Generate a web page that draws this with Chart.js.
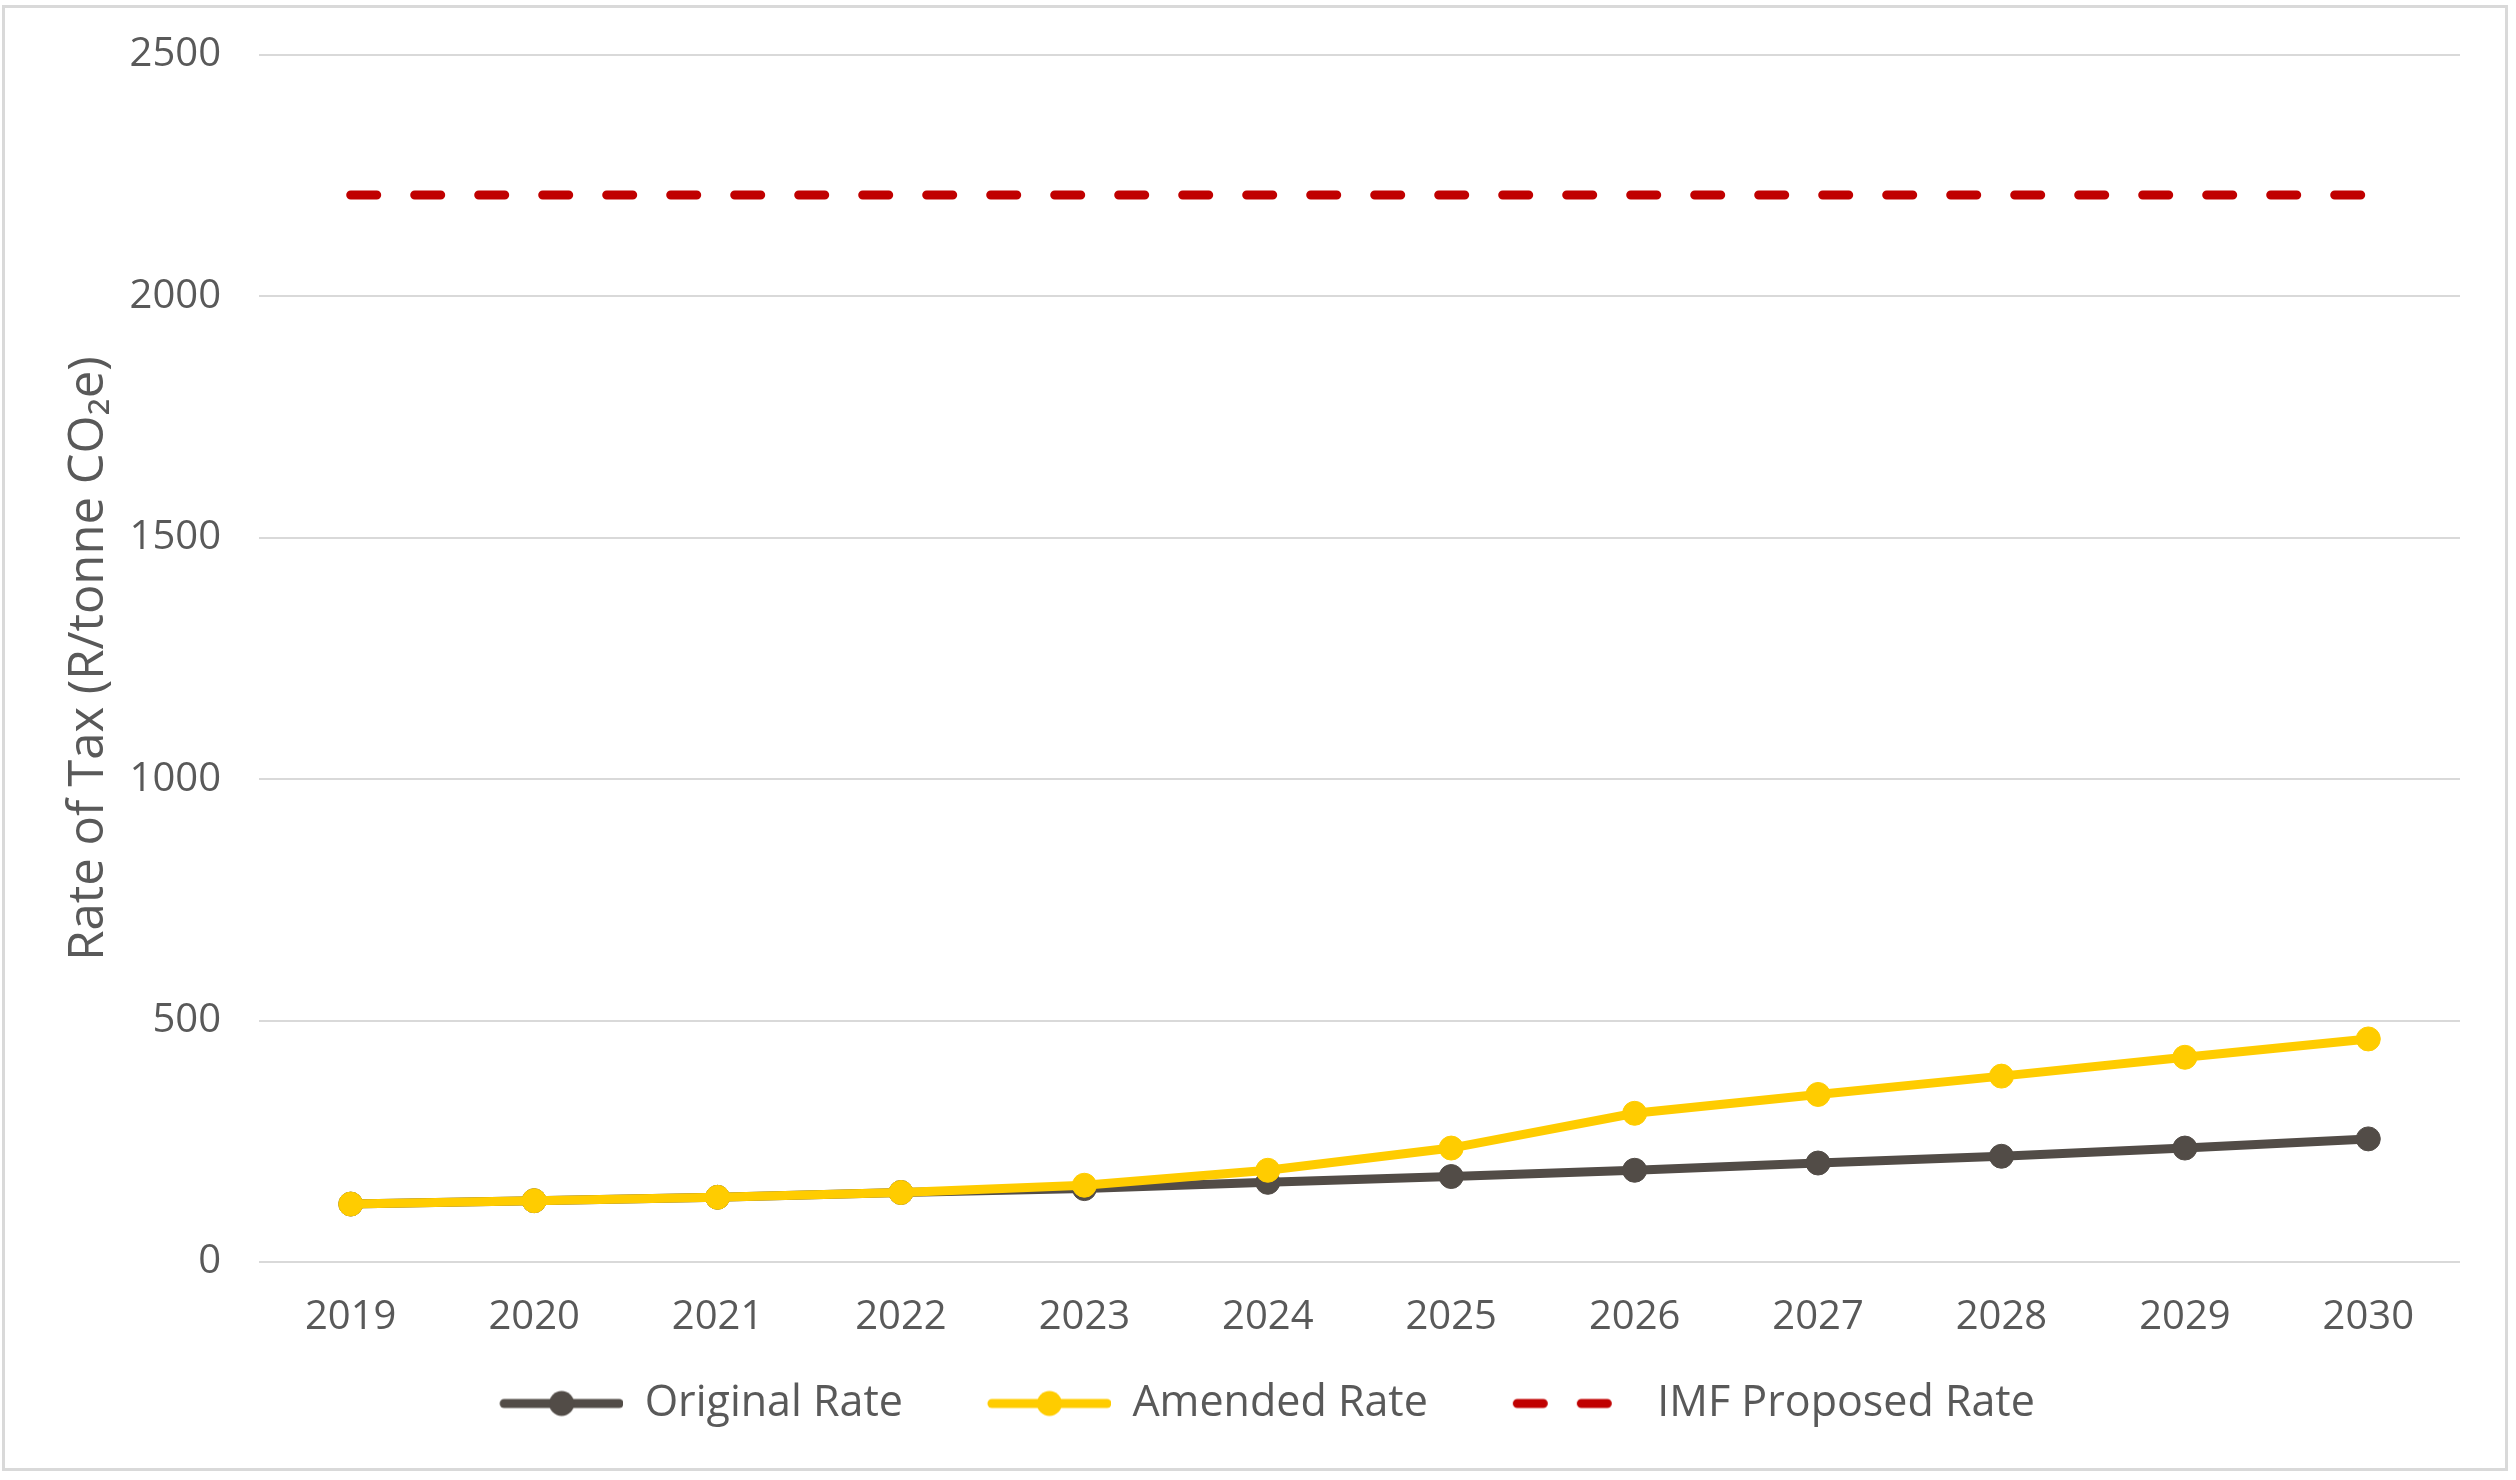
<!DOCTYPE html>
<html>
<head>
<meta charset="utf-8">
<script src="https://cdn.jsdelivr.net/npm/chart.js@4.4.0/dist/chart.umd.min.js"></script>
<style>
  html, body { margin: 0; padding: 0; background: #fff; }
  #wrap { position: relative; width: 2516px; height: 1480px; }
  #frame { position: absolute; left: 2px; top: 5px; width: 2500px; height: 1460px; border: 3px solid #d9d9d9; pointer-events: none; }
  canvas { position: absolute; left: 0; top: 0; }
</style>
</head>
<body>
<div id="wrap">
  <canvas id="taxChart" width="2516" height="1480"></canvas>
  <div id="frame"></div>
</div>
<script>
var years = ["2019", "2020", "2021", "2022", "2023", "2024", "2025", "2026", "2027", "2028", "2029", "2030"];
var originalRate = [120, 127, 134, 144, 152, 165, 177, 190, 205, 219, 236, 255];
var amendedRate = [120, 127, 134, 144, 159, 190, 236, 308, 347, 385, 424, 462];
var imfRate = [2210, 2210, 2210, 2210, 2210, 2210, 2210, 2210, 2210, 2210, 2210, 2210];
var yTicks = [0, 500, 1000, 1500, 2000, 2500];

var textColor = "#595959";
var fontFamily = "'Open Sans', Lato, sans-serif";
var gap = 55;      // extra space left of each legend sample
var sampleLen = 123;

// legend samples drawn onto small canvases and used as point styles
function legendSample(color, dashed) {
  var c = document.createElement('canvas');
  c.width = gap + sampleLen;
  c.height = 30;
  var g = c.getContext('2d');
  g.strokeStyle = color;
  g.fillStyle = color;
  if (dashed) {
    g.lineWidth = 9;
    g.lineCap = 'round';
    g.setLineDash([26, 38]);
    g.beginPath();
    g.moveTo(gap + 4.5, 15);
    g.lineTo(gap + sampleLen, 15);
    g.stroke();
  } else {
    g.lineWidth = 9;
    g.lineCap = 'round';
    g.beginPath();
    g.moveTo(gap + 4, 15);
    g.lineTo(gap + sampleLen - 4, 15);
    g.stroke();
    g.beginPath();
    g.arc(gap + sampleLen / 2, 15, 12.5, 0, Math.PI * 2);
    g.fill();
  }
  return c;
}

var ctx = document.getElementById("taxChart").getContext('2d');
var taxChart = new Chart(ctx, {
  type: 'line',
  data: {
    labels: years,
    datasets: [{
      label: 'Original Rate',
      data: originalRate,
      borderColor: "#524c47",
      backgroundColor: "#524c47",
      borderWidth: 9,
      pointRadius: 12,
      pointBorderWidth: 1,
      pointBorderColor: "#524c47",
      tension: 0,
      order: 2,
      sample: legendSample("#524c47", false)
    }, {
      label: 'Amended Rate',
      data: amendedRate,
      borderColor: "#ffcc00",
      backgroundColor: "#ffcc00",
      borderWidth: 9,
      pointRadius: 12,
      pointBorderWidth: 1,
      pointBorderColor: "#ffcc00",
      tension: 0,
      order: 1,
      sample: legendSample("#ffcc00", false)
    }, {
      label: 'IMF Proposed Rate',
      data: imfRate,
      borderColor: "#c00000",
      backgroundColor: "#c00000",
      borderWidth: 9,
      borderDash: [26, 38],
      borderCapStyle: 'round',
      pointRadius: 0,
      tension: 0,
      order: 0,
      sample: legendSample("#c00000", true)
    }]
  },
  options: {
    responsive: false,
    animation: false,
    layout: { padding: { left: 20, right: 56, top: 55, bottom: 45 } },
    plugins: {
      tooltip: { enabled: false },
      legend: {
        position: 'bottom',
        labels: {
          color: textColor,
          font: { family: fontFamily, size: 43 },
          padding: 30,
          usePointStyle: true,
          pointStyleWidth: gap + sampleLen,
          generateLabels: function(chart) {
            return chart.data.datasets.map(function(ds, i) {
              return {
                text: ds.label,
                pointStyle: ds.sample,
                fillStyle: ds.borderColor,
                strokeStyle: ds.borderColor,
                lineWidth: 0,
                fontColor: textColor,
                hidden: false,
                datasetIndex: i
              };
            });
          }
        }
      }
    },
    scales: {
      x: {
        offset: true,
        grid: { display: false },
        border: { display: false },
        ticks: { color: textColor, font: { family: fontFamily, size: 40 }, padding: 24, maxRotation: 0 },
        afterFit: function(scale) { scale.height = 90; }
      },
      y: {
        min: 0,
        max: 2500,
        afterBuildTicks: function(scale) {
          scale.ticks = yTicks.map(function(v) { return { value: v }; });
        },
        grid: { color: "#d9d9d9", lineWidth: 2, drawTicks: false },
        border: { display: false },
        ticks: {
          color: textColor,
          font: { family: fontFamily, size: 40, lineHeight: 0.8 },
          padding: 38,
          callback: function(v) { return String(v); }
        },
        title: {
          display: true,
          text: 'Rate of Tax (R/tonne CO\u2082e)',
          color: textColor,
          font: { family: fontFamily, size: 49 },
          padding: { top: 40, bottom: 0 }
        },
        afterFit: function(scale) { scale.width = 239; }
      }
    }
  }
});
</script>
</body>
</html>
